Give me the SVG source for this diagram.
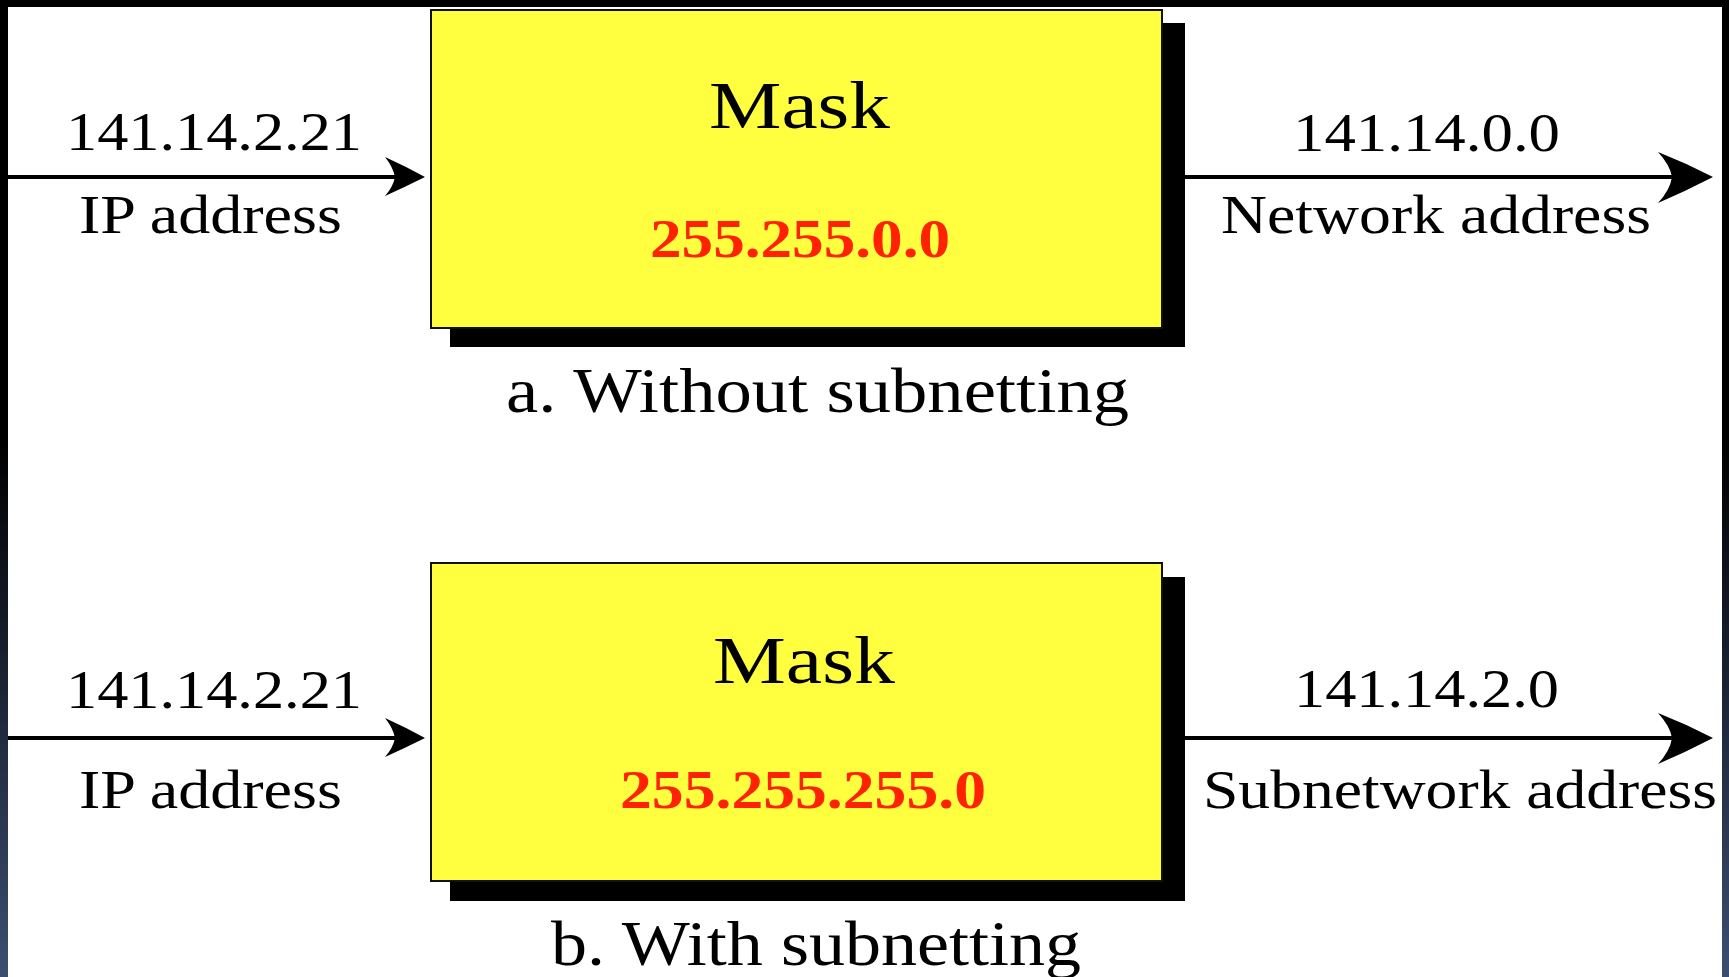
<svg xmlns="http://www.w3.org/2000/svg" width="1729" height="977" viewBox="0 0 1729 977">
<defs>
<linearGradient id="frame" x1="0" y1="0" x2="0" y2="1">
<stop offset="0" stop-color="#000"/>
<stop offset="0.45" stop-color="#000"/>
<stop offset="1" stop-color="#3c4e70"/>
</linearGradient>
</defs>
<style>
.t{font-family:"Liberation Serif","Times New Roman",serif;fill:#000;}
.lbl{font-size:54px;}
.mask{font-size:68px;text-anchor:start;}
.red{font-size:54px;font-weight:bold;fill:#ff2200;}
.cap{font-size:64px;}
.box{fill:#ffff40;stroke:#111;stroke-width:2;}
.shadow{fill:#000;}
.line{stroke:#000;stroke-width:4;fill:none;}
.head{fill:#000;}
</style>
<rect x="0" y="0" width="1729" height="977" fill="url(#frame)"/>
<rect x="8" y="7" width="1714" height="970" fill="#fff"/>

<g id="connectors">
<line class="line" x1="8" y1="177" x2="396" y2="177"/>
<path class="head" d="M425,177 Q405,166 385,157 Q393,167 395,177 Q393,187 385,196 Q405,187 425,177 Z"/>
<line class="line" x1="1185" y1="177" x2="1673" y2="177"/>
<path class="head" d="M1713,177 Q1686,163 1658,152 Q1670,165 1672,177 Q1670,190 1658,203 Q1686,191 1713,177 Z"/>
<line class="line" x1="8" y1="738" x2="396" y2="738"/>
<path class="head" d="M425,738 Q405,727 385,718 Q393,728 395,738 Q393,748 385,757 Q405,748 425,738 Z"/>
<line class="line" x1="1185" y1="738" x2="1673" y2="738"/>
<path class="head" d="M1713,738 Q1686,724 1658,713 Q1670,726 1672,738 Q1670,751 1658,764 Q1686,752 1713,738 Z"/>
</g>

<g id="mask-a">
<rect class="shadow" x="450" y="23" width="735" height="324"/>
<rect class="box" x="431" y="10" width="731" height="318"/>
<text class="t mask" x="709" y="128" textLength="181" lengthAdjust="spacingAndGlyphs">Mask</text>
<text class="t red" x="650" y="257" textLength="300" lengthAdjust="spacingAndGlyphs">255.255.0.0</text>
</g>

<g id="labels-a">
<text class="t lbl" x="66" y="150" textLength="296" lengthAdjust="spacingAndGlyphs">141.14.2.21</text>
<text class="t lbl" x="79" y="233" textLength="263" lengthAdjust="spacingAndGlyphs">IP address</text>
<text class="t lbl" x="1293" y="151" textLength="267" lengthAdjust="spacingAndGlyphs">141.14.0.0</text>
<text class="t lbl" x="1221" y="233" textLength="430" lengthAdjust="spacingAndGlyphs">Network address</text>
<text class="t cap" x="506" y="412" textLength="623" lengthAdjust="spacingAndGlyphs">a. Without subnetting</text>
</g>

<g id="mask-b">
<rect class="shadow" x="450" y="577" width="735" height="324"/>
<rect class="box" x="431" y="563" width="731" height="318"/>
<text class="t mask" x="713" y="683" textLength="182" lengthAdjust="spacingAndGlyphs">Mask</text>
<text class="t red" x="620" y="808" textLength="366" lengthAdjust="spacingAndGlyphs">255.255.255.0</text>
</g>

<g id="labels-b">
<text class="t lbl" x="66" y="708" textLength="296" lengthAdjust="spacingAndGlyphs">141.14.2.21</text>
<text class="t lbl" x="79" y="808" textLength="263" lengthAdjust="spacingAndGlyphs">IP address</text>
<text class="t lbl" x="1294" y="707" textLength="265" lengthAdjust="spacingAndGlyphs">141.14.2.0</text>
<text class="t lbl" x="1203" y="808" textLength="514" lengthAdjust="spacingAndGlyphs">Subnetwork address</text>
<text class="t cap" x="551" y="965" textLength="530" lengthAdjust="spacingAndGlyphs">b. With subnetting</text>
</g>
</svg>
